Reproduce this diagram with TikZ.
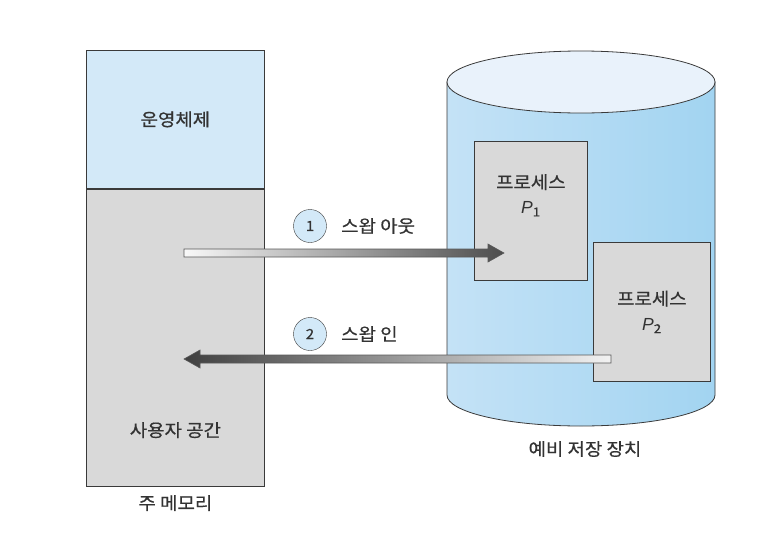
\documentclass[tikz,border=0pt]{standalone}
\usepackage{fontspec}
\setmainfont{Noto Sans CJK KR}[FakeStretch=1.08, FakeBold=0.6]
\newfontfamily\latinfont{Liberation Sans}
\usetikzlibrary{positioning,calc}

\definecolor{osblue}{HTML}{D3E9F8}
\definecolor{boxgray}{HTML}{D9D9D9}
\definecolor{diskside}{HTML}{C4E2F6}
\definecolor{diskmid}{HTML}{EDF5FC}
\definecolor{diskright}{HTML}{A2D4F1}
\definecolor{disktop}{HTML}{E9F2FB}
\definecolor{linegray}{HTML}{3A3A3A}
\definecolor{textgray}{HTML}{333333}

\tikzset{
  membox/.style={draw=linegray, line width=0.8pt, minimum width=178, anchor=north west, inner sep=0pt},
  procbox/.style={draw=linegray, line width=0.8pt, fill=boxgray, anchor=north west},
  numcirc/.style={circle, draw=linegray, fill=osblue, minimum size=33, inner sep=0pt, font=\fontsize{14}{14}\selectfont},
  fatarrow/.style={draw=black!65, line width=0.6pt},
}

\newcommand{\procP}[1]{{\latinfont\itshape P}\textsubscript{#1}}

\begin{document}
\begin{tikzpicture}[x=1pt, y=-1pt, every node/.style={text=textgray, font=\fontsize{17.5}{25}\selectfont}]
    \useasboundingbox (0,0) rectangle (758,541);

    % 주 메모리
    \node[membox, fill=osblue, minimum height=138] (os) at (86,50) {운영체제};
    \node[membox, fill=boxgray, minimum height=297] (user) at (os.south west) {};
    \node[above=45pt of user.south] (userlbl) {사용자 공간};
    \node[below=5pt of user.south] (memlbl) {주 메모리};

    % 예비 저장 장치
    \shade[left color=diskside, middle color=diskmid, right color=diskright, draw=linegray, line width=0.8pt]
        (447,82) -- (447,395) arc (180:0:134 and 31) -- (715,82) -- cycle;
    \filldraw[fill=disktop, draw=linegray, line width=0.8pt] (581,82) ellipse [x radius=134, y radius=31];
    \node (disklbl) at (585,449) {예비 저장 장치};

    % 프로세스 P1, P2
    \node[procbox, minimum width=113, minimum height=139] (p1) at (474,141) {};
    \node[align=center, inner sep=0pt, below=33pt of p1.north] (p1lbl) {프로세스\\\procP{1}};
    \node[procbox, minimum width=117, minimum height=139] (p2) at (593,242) {};
    \node[align=center] (p2lbl) at (p2.center) {프로세스\\\procP{2}};

    % 스왑 아웃
    \coordinate (outA) at (184,253);
    \coordinate (outB) at (504,253);
    \shade[fatarrow, left color=gray!5, right color=black!70]
        ($(outA)+(0,-4)$) -- ($(outB)+(-16,-4)$) -- ($(outB)+(-16,-9)$) -- (outB)
        -- ($(outB)+(-16,9)$) -- ($(outB)+(-16,4)$) -- ($(outA)+(0,4)$) -- cycle;
    \node[numcirc] (n1) at (310,226) {1};
    \node[right=11pt of n1] (outlbl) {스왑 아웃};

    % 스왑 인
    \coordinate (inA) at (611,359);
    \coordinate (inB) at (184,359);
    \shade[fatarrow, left color=black!75, right color=gray!10]
        ($(inA)+(0,-4)$) -- ($(inB)+(16,-4)$) -- ($(inB)+(16,-9)$) -- (inB)
        -- ($(inB)+(16,9)$) -- ($(inB)+(16,4)$) -- ($(inA)+(0,4)$) -- cycle;
    \node[numcirc] (n2) at (310,334) {2};
    \node[right=11pt of n2] (inlbl) {스왑 인};
\end{tikzpicture}
\end{document}
